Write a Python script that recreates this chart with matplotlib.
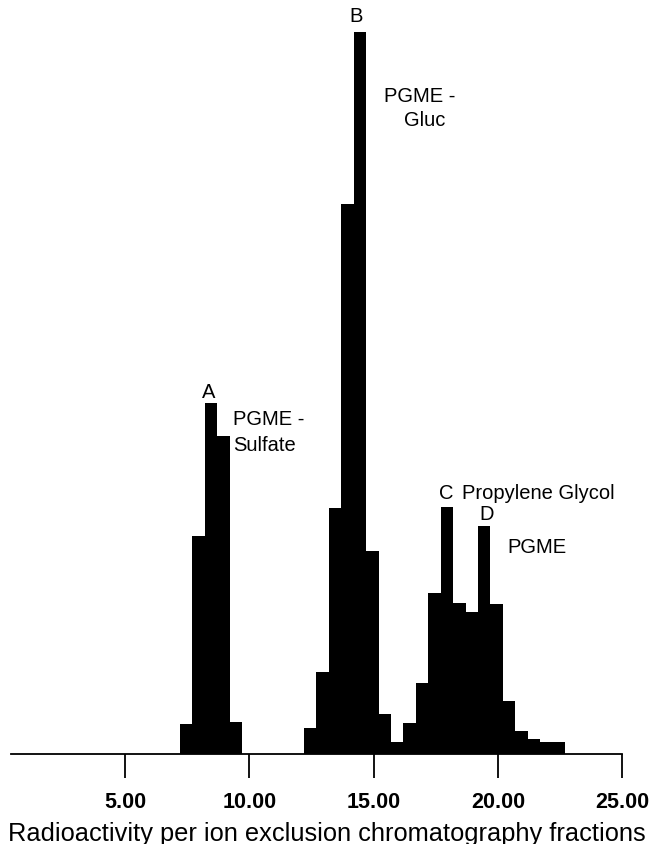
import matplotlib
matplotlib.use("Agg")
import matplotlib.pyplot as plt

plt.rcParams['font.family'] = ['Liberation Sans', 'DejaVu Sans']

# Fraction centres and radioactivity (arbitrary units)
fractions_a = [7.45, 7.95, 8.45, 8.95, 9.45]
counts_a = [30, 218, 351, 318, 32]

fractions_b = [12.45, 12.95, 13.45, 13.95, 14.45, 14.95, 15.45, 15.95, 16.45,
               16.95, 17.45, 17.95, 18.45, 18.95, 19.45, 19.95, 20.45, 20.95,
               21.45, 21.95, 22.45]
counts_b = [26, 82, 246, 550, 722, 203, 40, 12, 31,
            71, 161, 247, 151, 142, 228, 150, 53, 23,
            15, 12, 12]

tick_values = [5, 10, 15, 20, 25]
tick_labels = ["5.00", "10.00", "15.00", "20.00", "25.00"]
x_label = "Radioactivity per ion exclusion chromatography fractions"

fig = plt.figure(figsize=(6.55, 8.45), dpi=100)
ax = fig.add_axes([11 / 655, 1 - 755 / 845, (622 - 11) / 655, (755 - 20) / 845])

ax.bar(fractions_a, counts_a, width=0.5, color="black", linewidth=0)
ax.bar(fractions_b, counts_b, width=0.5, color="black", linewidth=0)

ax.set_xlim(0.4, 25.0)
ax.set_ylim(0, 735)

for s in ["top", "left", "right"]:
    ax.spines[s].set_visible(False)
ax.spines["bottom"].set_linewidth(1.3)
ax.set_yticks([])
ax.set_xticks(tick_values)
ax.set_xticklabels(tick_labels, fontsize=15.5, fontweight="bold")
ax.tick_params(axis="x", direction="out", length=17, width=1.3, pad=10)

def px(x, y):
    return (x / 655, 1 - y / 845)

fig.text(*px(327, 834), x_label, ha="center", va="center", fontsize=18.3)

txt = dict(transform=fig.transFigure, fontsize=14.5, color="black")
fig.text(*px(209, 392), "A", ha="center", va="center", **txt)
fig.text(*px(233, 420), "PGME -", ha="left", va="center", **txt)
fig.text(*px(233, 446), "Sulfate", ha="left", va="center", **txt)
fig.text(*px(356, 17), "B", ha="center", va="center", **txt)
fig.text(*px(384, 96), "PGME -", ha="left", va="center", **txt)
fig.text(*px(404, 121), "Gluc", ha="left", va="center", **txt)
fig.text(*px(446, 494), "C", ha="center", va="center", **txt)
fig.text(*px(462, 494), "Propylene Glycol", ha="left", va="center", **txt)
fig.text(*px(487, 515), "D", ha="center", va="center", **txt)
fig.text(*px(507, 548), "PGME", ha="left", va="center", **txt)

fig.savefig("out.png", dpi=100)
